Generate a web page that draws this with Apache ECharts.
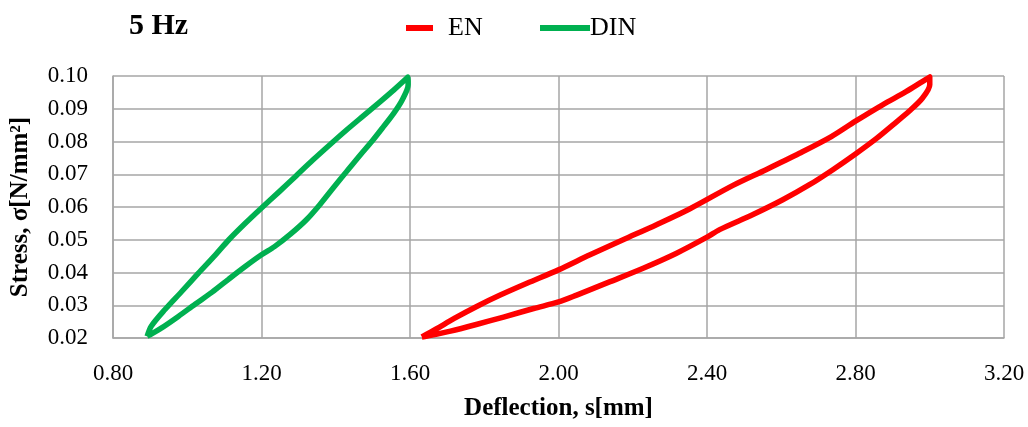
<!DOCTYPE html>
<html><head><meta charset="utf-8">
<script src="https://cdn.jsdelivr.net/npm/echarts@6/dist/echarts.min.js"></script>
<style>html,body{margin:0;padding:0;background:#fff}#c{width:1028px;height:427px}</style>
</head><body><div id="c"></div>
<script>
// EN loop (red): bottom tip -> upper branch -> top tip -> lower branch -> back to tip
const enX = [1.632, 1.673, 1.718, 1.781, 1.843, 1.915, 2.000, 2.085, 2.174, 2.264, 2.353, 2.470, 2.559, 2.649, 2.735, 2.800, 2.873, 2.936, 2.980, 3.000,
             3.000, 2.980, 2.945, 2.900, 2.855, 2.800, 2.739, 2.676, 2.604, 2.524, 2.434, 2.400, 2.318, 2.228, 2.139, 2.049, 2.000, 1.933, 1.852, 1.781, 1.709, 1.656, 1.632];
const enY = [0.0203, 0.0229, 0.0259, 0.0297, 0.0331, 0.0367, 0.0408, 0.0454, 0.0500, 0.0546, 0.0594, 0.0666, 0.0714, 0.0764, 0.0815, 0.0862, 0.0912, 0.0952, 0.0983, 0.0997,
             0.0973, 0.0932, 0.0893, 0.0850, 0.0808, 0.0762, 0.0714, 0.0668, 0.0622, 0.0577, 0.0531, 0.0508, 0.0459, 0.0413, 0.0372, 0.0331, 0.0310, 0.0290, 0.0264, 0.0242, 0.0221, 0.0208, 0.0203];
// DIN loop (green)
const dinX = [0.892, 0.903, 0.940, 0.985, 1.030, 1.076, 1.112, 1.157, 1.200, 1.248, 1.293, 1.339, 1.384, 1.429, 1.475, 1.520, 1.556, 1.588, 1.594,
              1.595, 1.579, 1.556, 1.529, 1.497, 1.466, 1.429, 1.393, 1.357, 1.321, 1.278, 1.235, 1.200, 1.157, 1.112, 1.067, 1.021, 0.976, 0.931, 0.895, 0.892];
const dinY = [0.0205, 0.0236, 0.0287, 0.0342, 0.0398, 0.0454, 0.0500, 0.0551, 0.0597, 0.0647, 0.0695, 0.0744, 0.0790, 0.0835, 0.0879, 0.0922, 0.0957, 0.0990, 0.0997,
              0.0973, 0.0927, 0.0886, 0.0846, 0.0800, 0.0759, 0.0708, 0.0658, 0.0607, 0.0561, 0.0517, 0.0479, 0.0454, 0.0419, 0.0380, 0.0340, 0.0303, 0.0266, 0.0231, 0.0207, 0.0205];
const xTicks = ['0.80','1.20','1.60','2.00','2.40','2.80','3.20'];

const font = '"Liberation Serif", "DejaVu Serif", serif';
const zip = (a, b) => a.map((v, i) => [v, b[i]]);
const chart = echarts.init(document.getElementById('c'));
chart.setOption({
  animation: false,
  title: { text: '5 Hz', left: 124, top: 6, textStyle: { fontFamily: font, fontSize: 30, fontWeight: 'bold', color: '#000' } },
  legend: [
    { data: ['EN'], left: 401, top: 10, itemWidth: 27, itemHeight: 6, itemGap: 10, icon: 'rect',
      textStyle: { fontFamily: font, fontSize: 26, color: '#000', padding: [0,0,0,10] } },
    { data: ['DIN'], left: 535, top: 10, itemWidth: 50, itemHeight: 6, icon: 'rect',
      textStyle: { fontFamily: font, fontSize: 26, color: '#000', padding: [0,0,0,-5] } }
  ],
  grid: { left: 113, right: 24, top: 76, bottom: 89 },
  xAxis: {
    type: 'value', min: 0.8, max: 3.2, interval: 0.4,
    name: 'Deflection, s[mm]', nameLocation: 'middle', nameGap: 58,
    nameTextStyle: { fontFamily: font, fontSize: 25, fontWeight: 'bold', color: '#000' },
    axisLine: { lineStyle: { color: '#a6a6a6', width: 1.5 } },
    axisTick: { show: false },
    splitLine: { lineStyle: { color: '#a6a6a6', width: 1.5 } },
    axisLabel: { margin: 24, fontFamily: font, fontSize: 23, color: '#000', formatter: (v) => xTicks.find(t => Math.abs(parseFloat(t) - v) < 1e-6) || '' }
  },
  yAxis: {
    type: 'value', min: 0.02, max: 0.10, interval: 0.01,
    name: 'Stress, σ[N/mm²]', nameLocation: 'middle', nameGap: 80,
    nameTextStyle: { fontFamily: font, fontSize: 25, fontWeight: 'bold', color: '#000' },
    axisLine: { show: true, lineStyle: { color: '#a6a6a6', width: 1.5 } },
    axisTick: { show: false },
    splitLine: { lineStyle: { color: '#a6a6a6', width: 1.5 } },
    axisLabel: { margin: 25, fontFamily: font, fontSize: 23, color: '#000', formatter: (v) => v.toFixed(2) }
  },
  series: [
    { name: 'EN', type: 'line', data: zip(enX, enY), smooth: 0.3, showSymbol: false,
      lineStyle: { color: '#ff0000', width: 5.5, join: 'round' }, itemStyle: { color: '#ff0000' } },
    { name: 'DIN', type: 'line', data: zip(dinX, dinY), smooth: 0.3, showSymbol: false,
      lineStyle: { color: '#00b050', width: 5.5, join: 'round' }, itemStyle: { color: '#00b050' } }
  ]
});
</script></body></html>
